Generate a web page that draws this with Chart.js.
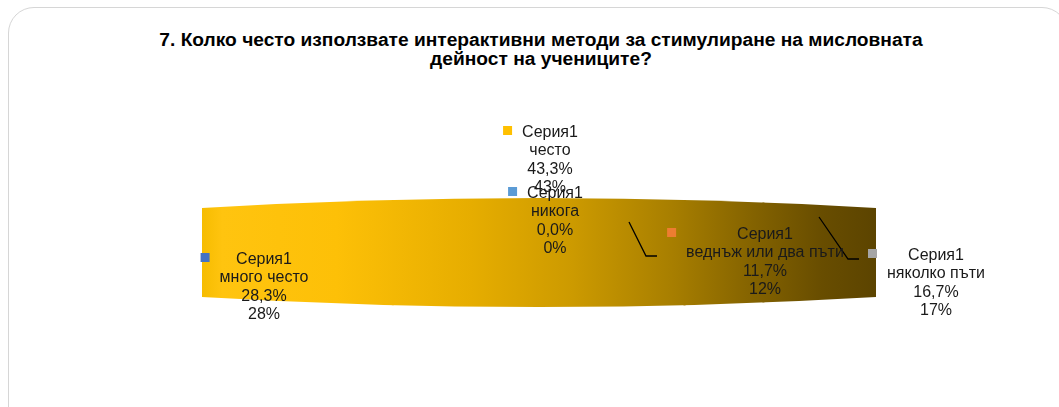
<!DOCTYPE html>
<html>
<head>
<meta charset="utf-8">
<script src="https://cdn.jsdelivr.net/npm/chart.js@4.4.1/dist/chart.umd.min.js"></script>
<style>
    body { margin: 0; background: #fff; width: 1059px; height: 407px; overflow: hidden; position: relative; font-family: "Liberation Sans", Arial, sans-serif; }
    #frame { position: absolute; left: 8px; top: 7px; width: 1060px; height: 440px; border: 1.5px solid #d6d6d6; border-radius: 26px; box-sizing: border-box; }
    #title { position: absolute; left: 0; top: 31px; width: 1082px; text-align: center; font-weight: bold; font-size: 18px; line-height: 18.5px; color: #000; transform: scaleX(1.065); transform-origin: 541px 0; }
    #chart { position: absolute; left: 0; top: 0; }
</style>
</head>
<body>
<div id="frame"></div>
<div id="title">7. Колко често използвате интерактивни методи за стимулиране на мисловната<br>дейност на учениците?</div>
<canvas id="chart" width="1059" height="407"></canvas>

<script>
// данни за диаграмата
const seriesName = 'Серия1';
const categories = ['много често', 'често', 'никога', 'веднъж или два пъти', 'няколко пъти'];
const shares = [28.3, 43.3, 0.0, 11.7, 16.7];
const sliceColors = ['#4472C4', '#FFC000', '#5B9BD5', '#ED7D31', '#A5A5A5'];

// къде стоят надписите: център по x, базова линия на първия ред
const labelSpots = [
    { x: 264, y: 264 },
    { x: 550, y: 137 },
    { x: 555, y: 198 },
    { x: 765, y: 239 },
    { x: 936, y: 260 }
];
const leaderLines = [
    null,
    null,
    null,
    [[629, 222], [646, 256], [657, 256]],
    [[819, 217], [848, 259], [859, 259]]
];

const bulge = 10;
let bandGradient = null;

function getGradient(chart) {
    const area = chart.chartArea;
    if (!area) return '#FFC000';
    if (bandGradient) return bandGradient;
    const g = chart.ctx.createLinearGradient(area.left, 0, area.right, 0);
    g.addColorStop(0, '#F6BC00');
    g.addColorStop(0.03, '#FFC40F');
    g.addColorStop(0.2, '#FDC007');
    g.addColorStop(0.4, '#E6AD00');
    g.addColorStop(0.55, '#CC9A00');
    g.addColorStop(0.7, '#A77E00');
    g.addColorStop(0.82, '#836200');
    g.addColorStop(0.92, '#684D00');
    g.addColorStop(1, '#5C4400');
    bandGradient = g;
    return g;
}

function fmtPct(v, digits) {
    return v.toFixed(digits).replace('.', ',') + '%';
}

// изрязваме лентата с извити горен и долен край
const barrelClip = {
    id: 'barrelClip',
    beforeDatasetsDraw(chart) {
        const { ctx, chartArea: a } = chart;
        const cx = (a.left + a.right) / 2;
        ctx.save();
        ctx.beginPath();
        ctx.moveTo(a.left, a.top + bulge);
        ctx.quadraticCurveTo(cx, a.top - bulge, a.right, a.top + bulge);
        ctx.lineTo(a.right, a.bottom - bulge);
        ctx.quadraticCurveTo(cx, a.bottom + bulge, a.left, a.bottom - bulge);
        ctx.closePath();
        ctx.clip();
    },
    afterDatasetsDraw(chart) {
        chart.ctx.restore();
    }
};

// надписи с маркер, категория и процент
const sliceLabels = {
    id: 'sliceLabels',
    afterDraw(chart) {
        const ctx = chart.ctx;
        ctx.save();
        ctx.strokeStyle = '#000';
        ctx.lineWidth = 1.3;
        leaderLines.forEach(pts => {
            if (!pts) return;
            ctx.beginPath();
            ctx.moveTo(pts[0][0], pts[0][1]);
            for (let k = 1; k < pts.length; k++) ctx.lineTo(pts[k][0], pts[k][1]);
            ctx.stroke();
        });

        ctx.font = '16px "Liberation Sans", Arial, sans-serif';
        ctx.textAlign = 'center';
        ctx.textBaseline = 'alphabetic';
        categories.forEach((cat, i) => {
            const spot = labelSpots[i];
            const lines = [seriesName, cat, fmtPct(shares[i], 1), fmtPct(shares[i], 0)];
            const widest = Math.max(...lines.map(t => ctx.measureText(t).width));
            const left = spot.x - widest / 2;
            ctx.fillStyle = sliceColors[i];
            ctx.fillRect(left - 19, spot.y - 11, 9, 9);
            ctx.fillStyle = '#1a1a1a';
            lines.forEach((t, k) => ctx.fillText(t, spot.x, spot.y + k * 18.4));
        });
        ctx.restore();
    }
};

new Chart(document.getElementById('chart'), {
    type: 'bar',
    data: {
        labels: [seriesName],
        datasets: categories.map((cat, i) => ({
            label: cat,
            data: [shares[i]],
            backgroundColor: ctx => getGradient(ctx.chart),
            borderWidth: 0,
            inflateAmount: 1,
            barPercentage: 1,
            categoryPercentage: 1
        }))
    },
    options: {
        indexAxis: 'y',
        responsive: false,
        devicePixelRatio: 1,
        animation: false,
        layout: { padding: { left: 202, right: 183, top: 198, bottom: 100 } },
        plugins: {
            legend: { display: false },
            tooltip: { enabled: false },
            title: { display: false }
        },
        scales: {
            x: { type: 'linear', display: false, stacked: true, min: 0, max: 100 },
            y: { display: false, stacked: true }
        }
    },
    plugins: [barrelClip, sliceLabels]
});
</script>
</body>
</html>
